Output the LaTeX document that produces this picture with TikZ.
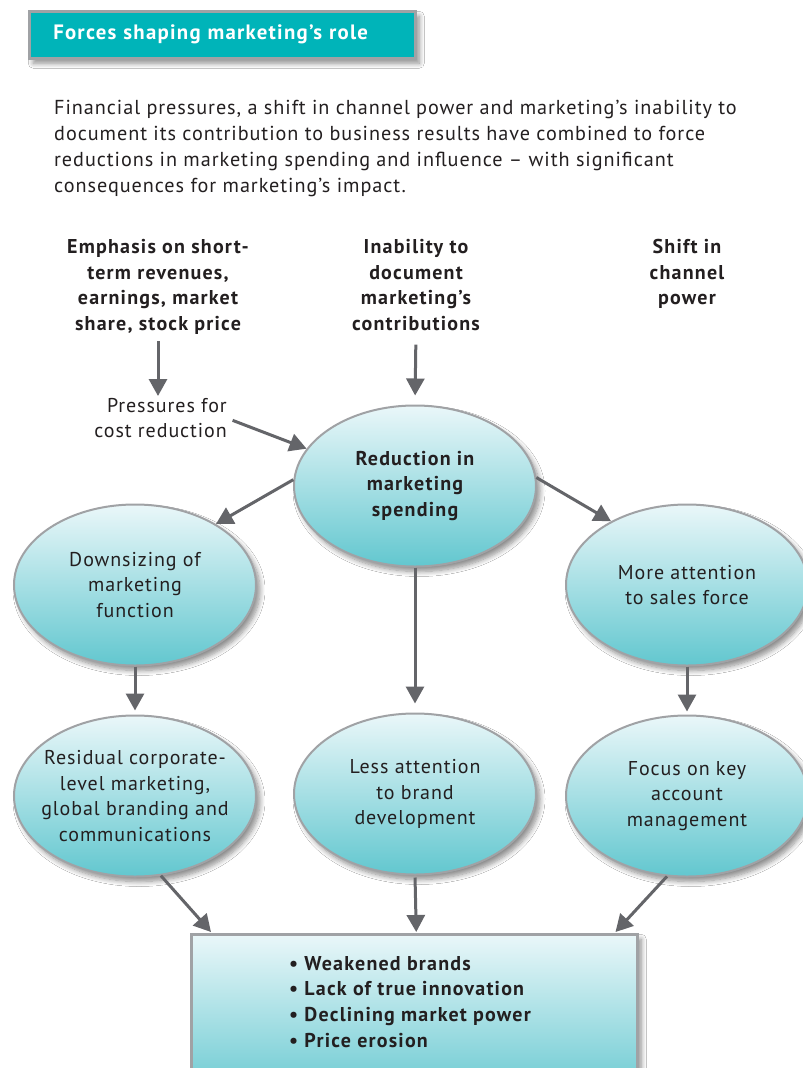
\documentclass[tikz,border=0pt]{standalone}
\usepackage{fontspec}
\setmainfont{PT Sans}[LetterSpace=4.7,BoldFeatures={LetterSpace=6}]
\usetikzlibrary{arrows.meta,shapes.geometric,shadows.blur,calc}
\definecolor{hdrteal}{RGB}{0,180,185}
\definecolor{elltop}{RGB}{234,247,249}
\definecolor{ellbot}{RGB}{98,199,207}
\definecolor{bordergray}{RGB}{160,162,165}
\definecolor{arrowgray}{RGB}{100,101,105}
\definecolor{inktext}{RGB}{35,31,32}
\tikzset{
  bodyfont/.style={font=\fontsize{20}{25.6}\selectfont},
  boldfont/.style={font=\fontsize{20}{25.6}\selectfont\bfseries},
  softshadow/.style={blur shadow={shadow xshift=4pt,shadow yshift=-5pt,shadow blur steps=8,shadow blur radius=5pt,shadow opacity=45}},
  bubble/.style={ellipse,draw=bordergray,line width=2pt,top color=elltop,bottom color=ellbot,
     minimum width=242pt,minimum height=161pt,inner sep=-30pt,align=center,text=inktext,bodyfont,softshadow},
  resultbox/.style={rectangle,draw=bordergray,line width=2.5pt,top color=elltop,bottom color=ellbot,
     minimum width=446pt,minimum height=170pt,inner sep=0pt,softshadow},
  header/.style={rectangle,draw=bordergray,line width=2.5pt,fill=hdrteal,minimum width=386pt,minimum height=47pt,
     inner xsep=24pt,text width=338pt,align=left,text=white,font=\fontsize{20.8}{22}\selectfont\bfseries,softshadow},
  label/.style={inner sep=0pt,text=inktext},
  flow/.style={draw=arrowgray,line width=3pt,-{Triangle[length=17pt,width=18pt]}},
}
\begin{document}
\begin{tikzpicture}[x=1pt,y=-1pt]
\useasboundingbox (0,0) rectangle (803,1068);
\fill[white] (0,0) rectangle (803,1068);

% header
\node[header,anchor=north west] (hdr) at (28,10) {Forces shaping marketing’s role};

% intro paragraph
\node[label,anchor=north west,align=left,font=\fontsize{20.2}{26}\selectfont] (para) at (54,100)
  {Financial pressures, a shift in channel power and marketing’s inability to\\
   document its contribution to business results have combined to force\\
   reductions in marketing spending and influence – with significant\\
   consequences for marketing’s impact.};

% top labels
\node[label,boldfont,align=center,anchor=north] (emph) at (158,239)
  {Emphasis on short-\\term revenues,\\earnings, market\\share, stock price};
\node[label,boldfont,align=center,anchor=north] (inab) at (416,239)
  {Inability to\\document\\marketing’s\\contributions};
\node[label,boldfont,align=center,anchor=north] (shift) at (687,239)
  {Shift in\\channel\\power};

\node[label,bodyfont,align=right,anchor=north east] (press) at (227,398)
  {Pressures for\\cost reduction};

% ellipses
\node[bubble,boldfont] (red) at (415,486) {Reduction in\\marketing\\spending};
\node[bubble] (down) at (135,585) {Downsizing of\\marketing\\function};
\node[bubble] (more) at (687,585) {More attention\\to sales force};
\node[bubble] (resid) at (135,796) {Residual corporate-\\level marketing,\\global branding and\\communications};
\node[bubble] (less) at (415,794) {Less attention\\to brand\\development};
\node[bubble] (focus) at (687,796) {Focus on key\\account\\management};

% result box
\node[resultbox,anchor=north west] (box) at (190,933) {};
\node[label,boldfont,align=left,anchor=north west] (bullets) at (289,956)
  {• Weakened brands\\• Lack of true innovation\\• Declining market power\\• Price erosion};

\coordinate (bt1) at ($(box.north west)+(21,-1)$);
\coordinate (bt2) at ($(box.north)+(2,-1)$);
\coordinate (bt3) at ($(box.north east)+(-23,-1)$);

% connectors
\draw[flow,shorten <=7pt,shorten >=2pt] (emph.south) -- (emph.south |- press.north);
\draw[flow,shorten <=14pt,shorten >=9pt] (inab.south) -- (red.north);
\draw[flow,shorten <=6pt] (press.east) -- (red.161);
\draw[flow] (red.177) -- (down.37);
\draw[flow] (red.4) -- (more.140);
\draw[flow,shorten >=9pt] (red.south) -- (less.north);
\draw[flow,shorten >=4pt] (down.south) -- (resid.north);
\draw[flow,shorten >=3pt] (more.south) -- (focus.north);
\draw[flow] (resid.-72) -- (bt1);
\draw[flow,shorten <=2pt] (less.south) -- (bt2);
\draw[flow] (focus.256) -- (bt3);
\end{tikzpicture}
\end{document}
